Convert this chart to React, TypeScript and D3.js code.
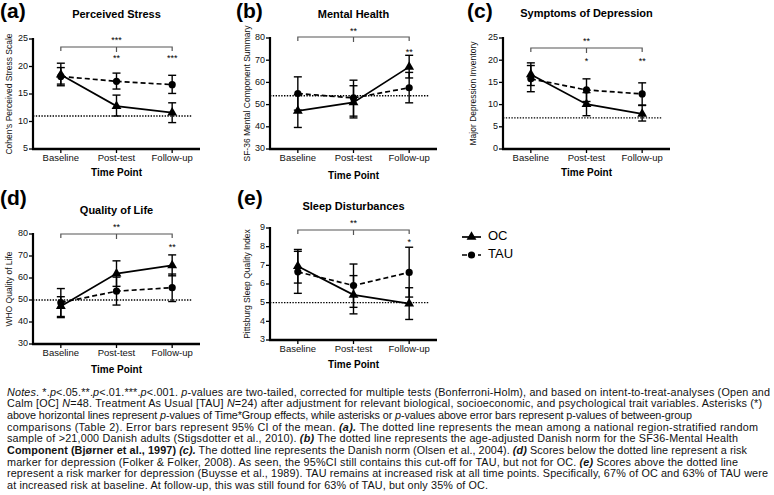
import React from "react";
import * as d3 from "d3";

const timePoints = ["Baseline", "Post-test", "Follow-up"];
const panelLetters = ["(a)", "(b)", "(c)", "(d)", "(e)"];
const panelTitles = ["Perceived Stress", "Mental Health", "Symptoms of Depression", "Quality of Life", "Sleep Disturbances"];
const yLabels = ["Cohen's Perceived Stress Scale", "SF-36 Mental Component Summary", "Major Depression Inventory", "WHO Quality of Life", "Pittsburg Sleep Quality Index"];
const yDomains = [[5, 25], [30, 80], [0, 25], [30, 80], [3, 9]];
const yTickValues = [[5, 10, 15, 20, 25], [30, 40, 50, 60, 70, 80], [0, 5, 10, 15, 20, 25], [30, 40, 50, 60, 70, 80], [3, 4, 5, 6, 7, 8, 9]];
const normValues = [11, 54, 7, 50, 5];
const interactionSig = ["***", "**", "**", "**", "**"];
const betweenSig = [["", "**", "***"], ["", "", "**"], ["", "*", "**"], ["", "", "**"], ["", "", "*"]];

const stressOC = [18.5, 12.8, 11.6];
const stressOCLo = [16.5, 11.0, 9.8];
const stressOCHi = [20.6, 14.8, 13.4];
const stressTAU = [18.2, 17.3, 16.7];
const stressTAULo = [16.8, 15.9, 15.1];
const stressTAUHi = [19.8, 18.8, 18.4];

const mentalOC = [47.2, 51.0, 67.0];
const mentalOCLo = [39.7, 44.0, 62.0];
const mentalOCHi = [54.5, 58.5, 72.2];
const mentalTAU = [55.0, 53.0, 57.6];
const mentalTAULo = [47.5, 44.8, 50.8];
const mentalTAUHi = [62.5, 61.0, 64.5];

const deprOC = [16.8, 10.1, 7.9];
const deprOCLo = [14.3, 7.5, 6.3];
const deprOCHi = [19.4, 12.7, 9.8];
const deprTAU = [15.8, 13.3, 12.4];
const deprTAULo = [12.9, 10.7, 9.9];
const deprTAUHi = [18.8, 15.8, 14.9];

const qolOC = [47.2, 62.0, 65.7];
const qolOCLo = [42.0, 56.2, 61.0];
const qolOCHi = [51.5, 67.8, 70.5];
const qolTAU = [48.8, 54.0, 55.6];
const qolTAULo = [42.5, 47.7, 49.3];
const qolTAUHi = [55.2, 60.4, 61.8];

const sleepOC = [6.95, 5.42, 4.95];
const sleepOCLo = [6.05, 4.4, 4.1];
const sleepOCHi = [7.85, 6.45, 5.8];
const sleepTAU = [6.65, 5.92, 6.62];
const sleepTAULo = [5.5, 4.75, 5.3];
const sleepTAUHi = [7.75, 7.07, 7.97];

const legendLabels = ["OC", "TAU"];

const noteLines: [string, string][][] = [
  [["Notes", "i"], [". *.", "n"], ["p", "i"], ["<.05.**.", "n"], ["p", "i"], ["<.01.***.", "n"], ["p", "i"], ["<.001. ", "n"], ["p", "i"], ["-values are two-tailed, corrected for multiple tests (Bonferroni-Holm), and based on intent-to-treat-analyses (Open and", "n"]],
  [["Calm [OC] ", "n"], ["N", "i"], ["=48. Treatment As Usual [TAU] ", "n"], ["N", "i"], ["=24) after adjustment for relevant biological, socioeconomic, and psychological trait variables. Asterisks (*)", "n"]],
  [["above horizontal lines represent ", "n"], ["p", "i"], ["-values of Time*Group effects, while asterisks or ", "n"], ["p", "i"], ["-values above error bars represent p-values of between-group", "n"]],
  [["comparisons (Table 2). Error bars represent 95% CI of the mean. ", "n"], ["(a).", "bi"], [" The dotted line represents the mean among a national region-stratified random", "n"]],
  [["sample of >21,000 Danish adults (Stigsdotter et al., 2010). ", "n"], ["(b)", "bi"], [" The dotted line represents the age-adjusted Danish norm for the SF36-Mental Health", "n"]],
  [["Component (Bjørner et al., 1997) ", "b"], ["(c).", "bi"], [" The dotted line represents the Danish norm (Olsen et al., 2004). ", "n"], ["(d)", "bi"], [" Scores below the dotted line represent a risk", "n"]],
  [["marker for depression (Folker & Folker, 2008). As seen, the 95%CI still contains this cut-off for TAU, but not for OC. ", "n"], ["(e)", "bi"], [" Scores above the dotted line", "n"]],
  [["represent a risk marker for depression (Buysse et al., 1989). TAU remains at increased risk at all time points. Specifically, 67% of OC and 63% of TAU were", "n"]],
  [["at increased risk at baseline. At follow-up, this was still found for 63% of TAU, but only 35% of OC.", "n"]],
];

// layout (not data)
const noteLineEnds = [770, 762, 692, 758, 738, 747, 738, 768, 488];
const panelData = [
  [stressOC, stressOCLo, stressOCHi, stressTAU, stressTAULo, stressTAUHi],
  [mentalOC, mentalOCLo, mentalOCHi, mentalTAU, mentalTAULo, mentalTAUHi],
  [deprOC, deprOCLo, deprOCHi, deprTAU, deprTAULo, deprTAUHi],
  [qolOC, qolOCLo, qolOCHi, qolTAU, qolTAULo, qolTAUHi],
  [sleepOC, sleepOCLo, sleepOCHi, sleepTAU, sleepTAULo, sleepTAUHi],
];
const panelLayout = [
  { ax: 33, top: 39, bottom: 149, letterX: 0, letterY: 18, titleY: 18, tickY: 158, xTitleY: 173, yLabX: 10, brY: 47, sigY: 59, intY: 41 },
  { ax: 270, top: 38, bottom: 149, letterX: 236, letterY: 18, titleY: 18, tickY: 158, xTitleY: 176, yLabX: 248, brY: 37, sigY: 53, intY: 32 },
  { ax: 503, top: 38, bottom: 149, letterX: 467, letterY: 18, titleY: 17, tickY: 158, xTitleY: 173, yLabX: 474, brY: 48, sigY: 62, intY: 42 },
  { ax: 33, top: 234, bottom: 344, letterX: 0, letterY: 205, titleY: 214, tickY: 353, xTitleY: 370, yLabX: 10, brY: 234, sigY: 248, intY: 228 },
  { ax: 270, top: 228, bottom: 340, letterX: 237, letterY: 205, titleY: 210, tickY: 349, xTitleY: 365, yLabX: 248, brY: 230, sigY: 243, intY: 224 },
];

const FONT = "'Liberation Sans', Arial, sans-serif";
const AXIS_W = 167;

function Panel({ i }: { i: number }) {
  const L = panelLayout[i];
  const [oc, ocLo, ocHi, tau, tauLo, tauHi] = panelData[i];
  const x = d3.scalePoint<string>().domain(timePoints).range([L.ax, L.ax + AXIS_W]).padding(0.5);
  const y = d3.scaleLinear().domain(yDomains[i]).range([L.bottom, L.top]);
  const line = d3.line<number>().x((_, k) => x(timePoints[k])!).y((v) => y(v));
  const tri = d3.symbol(d3.symbolTriangle, 42)()!;
  const cx = (k: number) => x(timePoints[k])!;
  const x0 = cx(0), x1 = cx(1), x2 = cx(2);
  const midY = (L.top + L.bottom) / 2;
  const errBars = (m: number[], lo: number[], hi: number[], key: string) =>
    m.map((_, k) => (
      <g key={key + k} stroke="#000" strokeWidth={1.4}>
        <line x1={cx(k)} x2={cx(k)} y1={y(lo[k])} y2={y(hi[k])} />
        <line x1={cx(k) - 4} x2={cx(k) + 4} y1={y(lo[k])} y2={y(lo[k])} />
        <line x1={cx(k) - 4} x2={cx(k) + 4} y1={y(hi[k])} y2={y(hi[k])} />
      </g>
    ));
  return (
    <g fontFamily={FONT}>
      <text x={L.letterX} y={L.letterY} fontSize={21} fontWeight="bold">{panelLetters[i]}</text>
      <text x={x1} y={L.titleY} fontSize={11} fontWeight="bold" textAnchor="middle">{panelTitles[i]}</text>
      <text transform={`translate(${L.yLabX},${midY}) rotate(-90)`} fontSize={8.5} textAnchor="middle" dominantBaseline="middle" fill="#111">{yLabels[i]}</text>
      {yTickValues[i].map((t) => (
        <g key={t}>
          <line x1={L.ax - 4} x2={L.ax} y1={y(t)} y2={y(t)} stroke="#000" strokeWidth={1.3} />
          <text x={L.ax - 5} y={y(t)} fontSize={9} textAnchor="end" dominantBaseline="middle" fill="#111">{t}</text>
        </g>
      ))}
      {timePoints.map((t) => (
        <g key={t}>
          <line x1={x(t)} x2={x(t)} y1={L.bottom} y2={L.bottom + 4} stroke="#000" strokeWidth={1.3} />
          <text x={x(t)} y={L.tickY} fontSize={9.5} textAnchor="middle" dominantBaseline="middle" fill="#111">{t}</text>
        </g>
      ))}
      <text x={x1} y={L.xTitleY} fontSize={10} fontWeight="bold" textAnchor="middle" dominantBaseline="middle">Time Point</text>
      <line x1={L.ax} x2={L.ax} y1={L.top - 1} y2={L.bottom + 1} stroke="#000" strokeWidth={2.2} />
      <line x1={L.ax - 1} x2={L.ax + AXIS_W} y1={L.bottom} y2={L.bottom} stroke="#000" strokeWidth={2.4} />
      <line x1={L.ax} x2={L.ax + AXIS_W - 8} y1={y(normValues[i])} y2={y(normValues[i])} stroke="#000" strokeWidth={1.4} strokeDasharray="1.4,1.4" />
      <path d={`M${x0},${L.brY + 4}V${L.brY}H${x2}V${L.brY + 4}M${x1},${L.brY}V${L.brY + 5}`} fill="none" stroke="#555" strokeWidth={1.2} />
      <text x={x1} y={L.intY} fontSize={9} textAnchor="middle" dominantBaseline="middle">{interactionSig[i]}</text>
      {betweenSig[i].map((s, k) => s ? (
        <text key={k} x={cx(k)} y={L.sigY} fontSize={9} textAnchor="middle" dominantBaseline="middle">{s}</text>
      ) : null)}
      {errBars(tau, tauLo, tauHi, "t")}
      {errBars(oc, ocLo, ocHi, "o")}
      <path d={line(tau)!} fill="none" stroke="#000" strokeWidth={1.7} strokeDasharray="5,3" />
      <path d={line(oc)!} fill="none" stroke="#000" strokeWidth={1.7} />
      {tau.map((v, k) => <circle key={"c" + k} cx={cx(k)} cy={y(v)} r={3.6} fill="#000" />)}
      {oc.map((v, k) => <path key={"p" + k} d={tri} transform={`translate(${cx(k)},${y(v)})`} fill="#000" />)}
    </g>
  );
}

function styleOf(s: string) {
  return {
    fontStyle: s.includes("i") ? "italic" : "normal",
    fontWeight: s.includes("b") ? "bold" : "normal",
  } as React.CSSProperties;
}

export default function App() {
  const tri = d3.symbol(d3.symbolTriangle, 42)()!;
  return (
    <svg width={774} height={495} style={{ position: "absolute", left: 0, top: 0, background: "#fff" }}>
      <rect width={774} height={495} fill="#fff" />
      {[0, 1, 2, 3, 4].map((i) => <Panel key={i} i={i} />)}
      <g fontFamily={FONT}>
        <line x1={462} x2={481} y1={237} y2={237} stroke="#000" strokeWidth={1.7} />
        <path d={tri} transform="translate(471.5,237)" fill="#000" />
        <text x={488} y={237} fontSize={13} dominantBaseline="middle">{legendLabels[0]}</text>
        <line x1={462} x2={481} y1={255} y2={255} stroke="#000" strokeWidth={1.7} strokeDasharray="5,3" />
        <circle cx={471.5} cy={255} r={3.6} fill="#000" />
        <text x={488} y={255} fontSize={13} dominantBaseline="middle">{legendLabels[1]}</text>
      </g>
      <g fontFamily={FONT} fontSize={10.8} fill="#111">
        {noteLines.map((segs, li) => (
          <text key={li} x={7} y={395.5 + li * 11.67} textLength={noteLineEnds[li] - 7} lengthAdjust="spacing">
            {segs.map(([t, s], k) => <tspan key={k} style={styleOf(s)}>{t}</tspan>)}
          </text>
        ))}
      </g>
    </svg>
  );
}
